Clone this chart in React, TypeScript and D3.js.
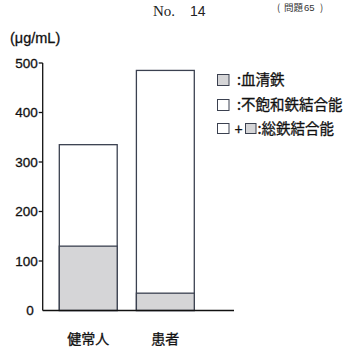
import React from "react";
import * as d3 from "d3";

const categories = ["健常人", "患者"];
const serumIron = [130, 35];
const totalIronBinding = [335, 485];
const yTicks = [0, 100, 200, 300, 400, 500];

const legendItems = [":血清鉄", ":不飽和鉄結合能", ":総鉄結合能"];

const W = 354;
const H = 352;
const SANS = "Arial, 'Liberation Sans', 'Noto Sans CJK JP', sans-serif";
const CJK = "'Noto Sans CJK JP', sans-serif";
const GRAY = "#d5d5d7";
const STROKE = "#3b4150";
const INK = "#111";

export default function App() {
  const y = d3.scaleLinear().domain([0, 500]).range([310.5, 63]);
  const x = d3.scaleBand().domain(categories).range([51.6, 202]).paddingInner(0.249).paddingOuter(0.1);
  const bw = x.bandwidth();
  const axisX = 42.7;
  const thick = { stroke: INK, strokeWidth: 0.3 };

  return (
    <svg width={W} height={H} style={{ position: "absolute", left: 0, top: 0 }} fontFamily={SANS}>
      <rect width={W} height={H} fill="#fff" />
      {/* header */}
      <text x={153} y={15.5} fontFamily="'Liberation Serif', 'DejaVu Serif', serif" fontSize={15} fill="#222">No.</text>
      <text x={190} y={15.5} fontSize={14} fill="#222">14</text>
      <text x={277} y={11} fontSize={9.5} fill="#333" fontFamily={CJK}>(</text>
      <text x={284} y={11} fontSize={9.5} fill="#333" fontFamily={CJK}>問題</text>
      <text x={304} y={11} fontSize={9.5} fill="#333">65</text>
      <text x={320} y={11} fontSize={9.5} fill="#333" fontFamily={CJK}>)</text>

      {/* unit */}
      <text x={10} y={43} fontSize={14.5} fill={INK} {...thick}>(μg/mL)</text>

      {/* bars */}
      {categories.map((c, i) => (
        <g key={c}>
          <rect x={x(c)} y={y(totalIronBinding[i])} width={bw} height={y(0) - y(totalIronBinding[i])}
            fill="#fff" stroke={STROKE} strokeWidth={1.3} />
          <rect x={x(c)} y={y(serumIron[i])} width={bw} height={y(0) - y(serumIron[i])}
            fill={GRAY} stroke={STROKE} strokeWidth={1.3} />
        </g>
      ))}

      {/* axes */}
      <line x1={axisX} x2={axisX} y1={y(500)} y2={y(0)} stroke={INK} strokeWidth={1.3} />
      <line x1={axisX} x2={234} y1={y(0)} y2={y(0)} stroke={INK} strokeWidth={1.3} />
      {yTicks.map((t) => (
        <g key={t}>
          {t > 0 && <line x1={axisX - 4} x2={axisX} y1={y(t)} y2={y(t)} stroke={INK} strokeWidth={1.3} />}
          <text x={t > 0 ? axisX - 5 : axisX - 9} y={y(t)} dy="0.36em" textAnchor="end" fontSize={13.5} fill={INK} {...thick}>{t}</text>
        </g>
      ))}
      {categories.map((c) => (
        <text key={c} x={(x(c) as number) + bw / 2} y={344} textAnchor="middle" fontSize={14}
          fill={INK} fontFamily={CJK} {...thick}>{c}</text>
      ))}

      {/* legend */}
      <rect x={217.5} y={74.5} width={11.5} height={11} fill={GRAY} stroke={STROKE} strokeWidth={1} />
      <text x={237} y={80} dy="0.36em" fontSize={14.5} fill={INK} fontFamily={CJK} {...thick}>{legendItems[0]}</text>
      <rect x={217.5} y={99.5} width={11.5} height={11} fill="#fff" stroke={STROKE} strokeWidth={1} />
      <text x={237} y={105} dy="0.36em" fontSize={14.5} fill={INK} fontFamily={CJK} {...thick}>{legendItems[1]}</text>
      <rect x={217.5} y={123.5} width={11.5} height={10} fill="#fff" stroke={STROKE} strokeWidth={1} />
      <text x={238.5} y={128.5} dy="0.36em" textAnchor="middle" fontSize={14} fill={INK} {...thick}>+</text>
      <rect x={245.5} y={123.5} width={10.5} height={10} fill={GRAY} stroke={STROKE} strokeWidth={1} />
      <text x={257.5} y={128.5} dy="0.36em" fontSize={14.5} fill={INK} fontFamily={CJK} {...thick}>{legendItems[2]}</text>
    </svg>
  );
}
